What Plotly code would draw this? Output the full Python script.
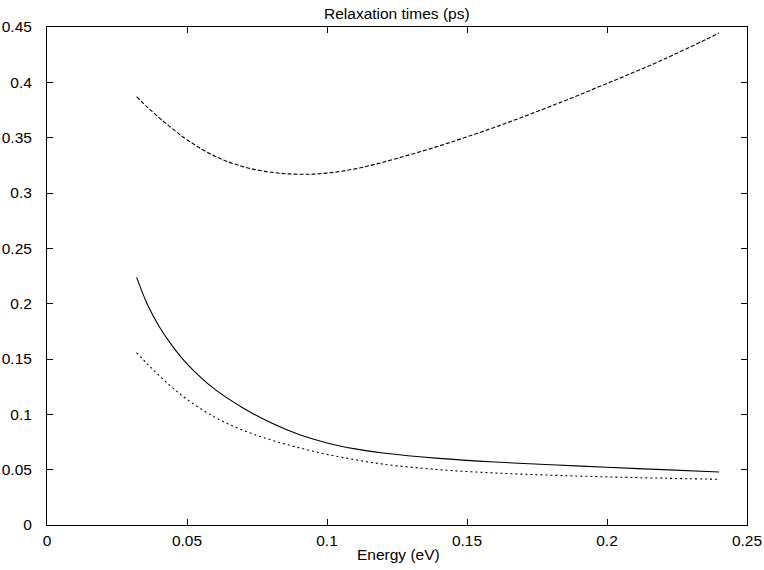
import plotly.graph_objects as go

# Energy (eV) sample grid shared by the three curves
energy = [0.032, 0.036, 0.040, 0.045, 0.050, 0.060, 0.070, 0.080, 0.090, 0.100, 0.110, 0.120,
          0.140, 0.160, 0.180, 0.200, 0.220, 0.240]

# Relaxation times (ps)
tau_dashed = [0.3870, 0.3772, 0.3681, 0.3577, 0.3481, 0.3332, 0.3238, 0.3188, 0.3169, 0.3180,
              0.3218, 0.3278, 0.3425, 0.3595, 0.3785, 0.3990, 0.4205, 0.4445]
tau_solid = [0.2238, 0.1985, 0.1796, 0.1610, 0.1457, 0.1225, 0.1058, 0.0923, 0.0817, 0.0741,
             0.0688, 0.0651, 0.0602, 0.0569, 0.0545, 0.0522, 0.0500, 0.0479]
tau_dotted = [0.1557, 0.1452, 0.1352, 0.1237, 0.1135, 0.0973, 0.0856, 0.0768, 0.0698, 0.0638,
              0.0590, 0.0550, 0.0500, 0.0470, 0.0450, 0.0435, 0.0423, 0.0413]

x_ticks = [0, 0.05, 0.1, 0.15, 0.2, 0.25]
x_tick_labels = ["0", "0.05", "0.1", "0.15", "0.2", "0.25"]
y_ticks = [0, 0.05, 0.1, 0.15, 0.2, 0.25, 0.3, 0.35, 0.4, 0.45]
y_tick_labels = ["0", "0.05", "0.1", "0.15", "0.2", "0.25", "0.3", "0.35", "0.4", "0.45"]

title_text = "Relaxation times (ps)"
xlabel_text = "Energy (eV)"

FONT = "Liberation Sans, Arial, Helvetica, sans-serif"
FS = 15.5

fig = go.Figure()
fig.add_trace(go.Scatter(x=energy, y=tau_solid, mode="lines",
                         line=dict(color="black", width=1.1, shape="spline", smoothing=1.0), showlegend=False))
fig.add_trace(go.Scatter(x=energy, y=tau_dashed, mode="lines",
                         line=dict(color="black", width=1.1, shape="spline", smoothing=1.0, dash="4px,2px"),
                         showlegend=False))
fig.add_trace(go.Scatter(x=energy, y=tau_dotted, mode="lines",
                         line=dict(color="black", width=1.1, shape="spline", smoothing=1.0, dash="2px,3px"),
                         showlegend=False))

axis_common = dict(showgrid=False, zeroline=False, showline=True, linecolor="black", linewidth=1,
                   mirror="allticks", ticks="inside", ticklen=6, tickwidth=1, tickcolor="black",
                   automargin=False,
                   tickfont=dict(family=FONT, size=FS, color="black"))

fig.update_xaxes(range=[0, 0.25], tickvals=x_ticks, ticktext=x_tick_labels, ticklabelstandoff=1, **axis_common)
fig.update_yaxes(range=[0, 0.45], tickvals=y_ticks, ticktext=y_tick_labels, ticklabelstandoff=11, **axis_common)

fig.add_annotation(text=title_text, xref="paper", yref="paper", x=0.5, y=1.027,
                   xanchor="center", yanchor="middle", showarrow=False,
                   font=dict(family=FONT, size=FS, color="black"))
fig.add_annotation(text=xlabel_text, xref="paper", yref="paper", x=0.502, y=-0.06,
                   xanchor="center", yanchor="middle", showarrow=False,
                   font=dict(family=FONT, size=FS, color="black"))

fig.update_layout(width=764, height=570, margin=dict(l=47, r=17, t=27, b=45),
                  plot_bgcolor="white", paper_bgcolor="white")

fig.write_html("out.html")
